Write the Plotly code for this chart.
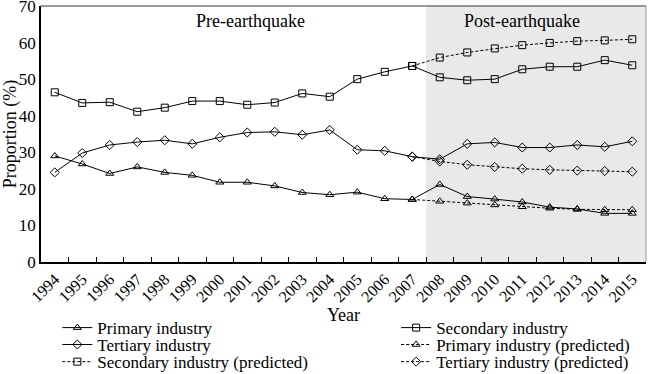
import plotly.graph_objects as go

years = [str(y) for y in range(1994, 2016)]
primary = [29.0, 26.8, 24.2, 26.0, 24.5, 23.7, 21.8, 21.8, 20.8, 19.0, 18.4, 19.1,
           17.3, 17.1, 21.2, 17.9, 17.2, 16.4, 15.0, 14.5, 13.3, 13.3]
secondary = [46.4, 43.5, 43.7, 41.1, 42.2, 44.0, 44.0, 43.0, 43.6, 46.1, 45.2, 50.0,
             52.0, 53.6, 50.5, 49.7, 50.0, 52.7, 53.4, 53.4, 55.2, 53.8]
tertiary = [24.5, 29.8, 32.0, 32.8, 33.3, 32.3, 34.1, 35.4, 35.6, 34.8, 36.1, 30.7,
            30.4, 28.8, 28.1, 32.3, 32.7, 31.3, 31.3, 32.0, 31.5, 33.0]
pred_years = [str(y) for y in range(2007, 2016)]
primary_pred = [17.1, 16.6, 16.1, 15.6, 15.1, 14.7, 14.4, 14.3, 14.3]
secondary_pred = [53.6, 55.9, 57.3, 58.4, 59.3, 59.9, 60.4, 60.6, 60.9]
tertiary_pred = [28.8, 27.5, 26.6, 26.0, 25.5, 25.2, 25.0, 24.9, 24.7]

FONT = "Liberation Serif, Times New Roman, serif"

fig = go.Figure()

def add(name, x, y, symbol, dash, legend):
    fig.add_trace(go.Scatter(
        x=x, y=y, name=name, mode="lines+markers", legend=legend,
        line=dict(color="black", width=1, dash=dash),
        marker=dict(symbol=symbol, size=7, color="black",
                    line=dict(color="black", width=1)),
    ))

add("Primary industry", years, primary, "triangle-up-open", "solid", "legend")
add("Secondary industry", years, secondary, "square-open", "solid", "legend2")
add("Tertiary industry", years, tertiary, "diamond-open", "solid", "legend3")
add("Primary industry (predicted)", pred_years, primary_pred, "triangle-up-open", "3px,2px", "legend4")
add("Secondary industry (predicted)", pred_years, secondary_pred, "square-open", "3px,2px", "legend5")
add("Tertiary industry (predicted)", pred_years, tertiary_pred, "diamond-open", "3px,2px", "legend6")

# post-earthquake shaded region
fig.add_shape(type="rect", xref="x", yref="paper", x0=13.5, x1=21.5, y0=0, y1=1,
              fillcolor="#e9e9e9", line=dict(width=0), layer="below")
# top and right frame lines
fig.add_shape(type="line", xref="paper", yref="paper", x0=0, x1=1, y0=1, y1=1,
              line=dict(color="#777777", width=1.5))
fig.add_shape(type="line", xref="paper", yref="paper", x0=1, x1=1, y0=0, y1=1,
              line=dict(color="#999999", width=1))

fig.add_annotation(text="Pre-earthquake", xref="x", yref="paper", x=7.1, y=0.941,
                   showarrow=False, yanchor="middle", font=dict(size=18, family=FONT, color="black"))
fig.add_annotation(text="Post-earthquake", xref="x", yref="paper", x=17.0, y=0.941,
                   showarrow=False, yanchor="middle", font=dict(size=18, family=FONT, color="black"))

leg_common = dict(orientation="v", xanchor="left", yanchor="middle",
                  font=dict(size=17, family=FONT, color="black"), itemwidth=30,
                  bgcolor="rgba(0,0,0,0)", borderwidth=0)
xl, xr = 0.027, 0.587
y1, y2, y3 = -0.258, -0.324, -0.391

fig.update_layout(
    width=650, height=374,
    margin=dict(l=41, r=4, t=6, b=112, autoexpand=False),
    plot_bgcolor="white", paper_bgcolor="white",
    font=dict(family=FONT, size=16, color="black"),
    showlegend=True,
    legend=dict(x=xl, y=y1, **leg_common),
    legend2=dict(x=xr, y=y1, **leg_common),
    legend3=dict(x=xl, y=y2, **leg_common),
    legend4=dict(x=xr, y=y2, **leg_common),
    legend5=dict(x=xl, y=y3, **leg_common),
    legend6=dict(x=xr, y=y3, **leg_common),
    xaxis=dict(type="category", categoryorder="array", categoryarray=years,
               range=[-0.5, 21.5], tickangle=-45, tickson="boundaries",
               ticks="inside", ticklen=5, tickcolor="black",
               showline=True, linecolor="black", linewidth=1.5,
               showgrid=False, zeroline=False,
               tickfont=dict(size=16, family=FONT),
               title=dict(text="Year", font=dict(size=18, family=FONT), standoff=4)),
    yaxis=dict(range=[0, 70], dtick=10, ticks="", showline=True, linecolor="black",
               linewidth=1.5, showgrid=False, zeroline=False, ticklabeloverflow="allow",
               tickfont=dict(size=17, family=FONT),
               title=dict(text="Proportion (%)", font=dict(size=18, family=FONT), standoff=4)),
)

fig.write_html("out.html", config={"displayModeBar": False},
               post_script="document.body.style.margin='0';")
